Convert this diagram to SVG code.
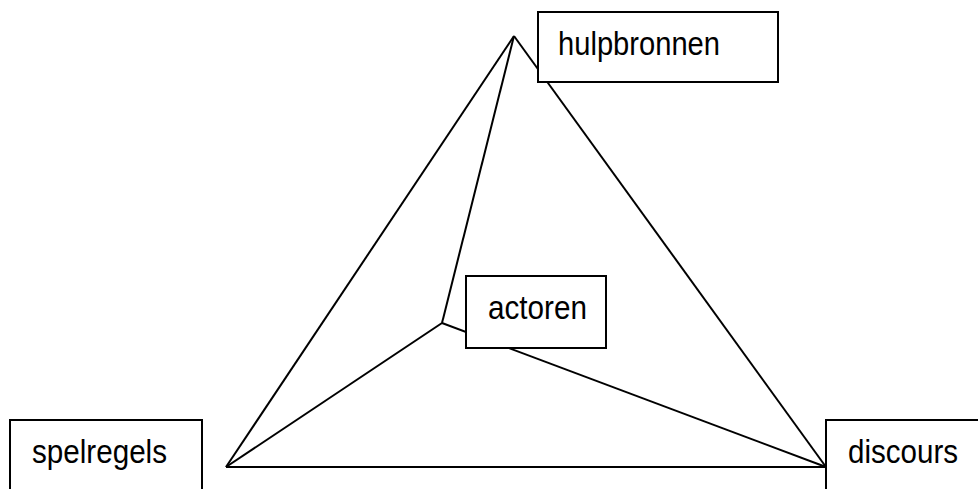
<svg xmlns="http://www.w3.org/2000/svg" width="978" height="489" viewBox="0 0 978 489">
<style>
.ln{stroke:#000;stroke-width:2;fill:none}
.box{fill:#fff;stroke:#000;stroke-width:2}
.t{font-family:"Liberation Sans",Arial,sans-serif;font-size:33px;fill:#000}
</style>
<rect width="978" height="489" fill="#fff"/>
<g id="connectors">
<line class="ln" x1="514" y1="36" x2="226" y2="467"/>
<line class="ln" x1="514" y1="36" x2="826" y2="467"/>
<line class="ln" x1="226" y1="467" x2="826" y2="467"/>
<line class="ln" x1="442" y1="323" x2="514" y2="36"/>
<line class="ln" x1="442" y1="323" x2="226" y2="467"/>
<line class="ln" x1="442" y1="323" x2="826" y2="467"/>
</g>
<g id="hulpbronnen">
<rect class="box" x="538" y="12" width="240" height="70"/>
<text class="t" x="558" y="55" textLength="162" lengthAdjust="spacingAndGlyphs">hulpbronnen</text>
</g>
<g id="actoren">
<rect class="box" x="466" y="276" width="140" height="72"/>
<text class="t" x="488" y="319" textLength="99" lengthAdjust="spacingAndGlyphs">actoren</text>
</g>
<g id="spelregels">
<rect class="box" x="10" y="420" width="192" height="80"/>
<text class="t" x="32" y="463" textLength="135" lengthAdjust="spacingAndGlyphs">spelregels</text>
</g>
<g id="discours">
<rect class="box" x="826" y="420" width="170" height="80"/>
<text class="t" x="848" y="463" textLength="110" lengthAdjust="spacingAndGlyphs">discours</text>
</g>
</svg>
